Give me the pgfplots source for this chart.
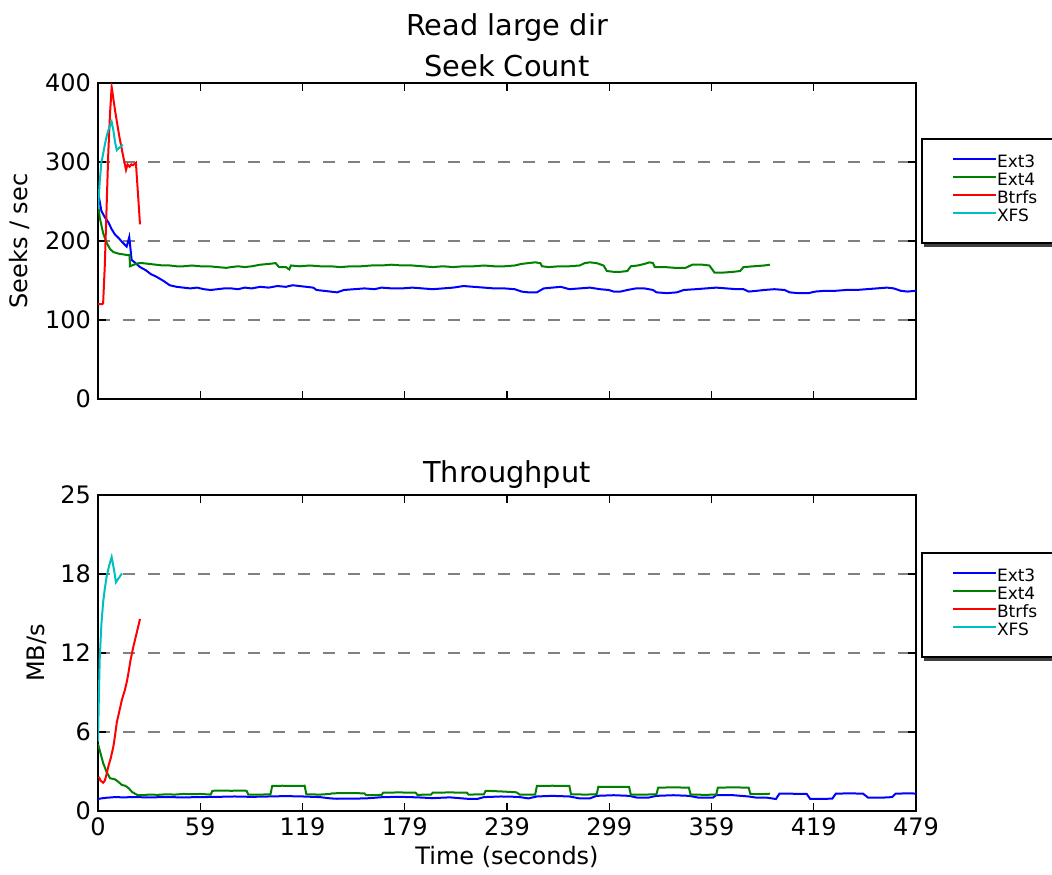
\documentclass[border=0pt]{standalone}
\usepackage{fontspec}
\setmainfont{DejaVu Sans}
\usepackage{pgfplots}
\pgfplotsset{compat=1.18}

\definecolor{mplblue}{rgb}{0,0,1}
\definecolor{mplgreen}{rgb}{0,0.5,0}
\definecolor{mplred}{rgb}{1,0,0}
\definecolor{mplcyan}{rgb}{0,0.75,0.75}

\pgfplotsset{
  fsaxis/.style={
    scale only axis, width=409pt, height=158pt,
    xmin=0, xmax=479,
    xtick={0,59.875,119.75,179.625,239.5,299.375,359.25,419.125,479},
    tick align=inside, xtick pos=both, ytick pos=both,
    major tick length=4pt,
    axis line style={line width=1.2pt},
    tick style={black, line width=0.6pt},
    ymajorgrids,
    major grid style={gray, line width=0.8pt, dash pattern=on 6pt off 6.5pt},
    tick label style={font=\fontsize{12}{14}\selectfont},
    /pgf/number format/assume math mode=true,
    label style={font=\fontsize{12}{14}\selectfont},
    every axis y label/.style={rotate=90, anchor=center, font=\fontsize{12}{14}\selectfont},
    title style={font=\fontsize{14.4}{20.5}\selectfont, align=center,
      at={(0.5,1)}, anchor=south, inner sep=0pt, yshift=-3pt},
    legend style={at={(1,1)}, anchor=north west, xshift=2.5pt,
      draw=black, line width=1pt, fill=white,
      inner xsep=15pt, inner ysep=8pt,
      font=\fontsize{8.5}{9}\selectfont, row sep=0pt,
      cells={anchor=west},
      nodes={inner sep=0pt, text height=6.3pt, text depth=2.7pt}},
    legend image code/.code={\path (0pt,0pt); \draw[#1] (0pt,2.5pt) -- (21.5pt,2.5pt);},
  }
}

\begin{document}
\begin{tikzpicture}
\useasboundingbox (-49pt,-31.5pt) rectangle (477pt,405.5pt);
\clip (-49pt,-31.5pt) rectangle (477pt,405.5pt);

% ---- Seek Count ----
\begin{axis}[fsaxis, at={(0,206pt)},
  ymin=0, ymax=400, ytick={0,100,200,300,400},
  xticklabels={,,,,,,,,},
  ylabel={Seeks / sec},
  ylabel style={at={(axis description cs:-0.0954,0.5)}},
  title={Read large dir\\Seek Count},
  legend style={yshift=-27.5pt, name=legA},
]
\addplot[mplblue, line width=1pt] coordinates {
(0,262)(1,250)(2,238)(4,230)(6,224)(8,215)(10,208)(12,204)(14,199)(16.8,193)(18.3,205)(19.7,176)
(22,172)(24.6,167)(28,163)(31,158)(34,155)(38,150)(42,144)(46,142)(50,141)(54,140)(58,141)(62,139)
(66,138)(70,139)(74,140)(78,140)(82,139)(86,141)(90,140)(95,142)(100,141)(105,143)(110,142)(114,144)
(118,143)(122,142)(126,141)(128,138)(132,137)(136,136)(140,135)(144,138)(150,139)(156,140)(162,139)
(166,141)(172,140)(178,140)(184,141)(190,140)(196,139)(202,140)(208,141)(214,143)(220,142)(226,141)
(232,140)(238,140)(244,139)(248,136)(252,135)(257,135)(261,140)(266,141)(271,142)(276,139)(282,140)
(288,141)(294,139)(299,138)(302,136)(306,136)(310,138)(315,140)(320,140)(325,138)(327,135)(333,134)
(339,135)(343,138)(350,139)(356,140)(362,141)(368,140)(374,139)(378,139)(381,136)(386,137)(390,138)
(396,139)(402,138)(405,135)(410,134)(416,134)(420,136)(426,137)(432,137)(438,138)(444,138)(450,139)
(456,140)(462,141)(466,140)(470,137)(474,136)(479,137)};
\addplot[mplgreen, line width=1pt] coordinates {
(0,248)(1,230)(3,210)(5,198)(7,190)(9,186)(12,184)(15,183)(17.6,182)(18.5,182)(18.7,168)(21,170)
(24,172)(26,172)(30,171)(34,170)(38,169)(42,169)(46,168)(50,168)(55,169)(60,168)(65,168)(70,167)
(75,166)(78,167)(82,168)(86,167)(90,168)(95,170)(100,171)(104,172)(106,167)(110,167)(112,164)(113,169)
(118,168)(124,169)(130,168)(136,168)(142,167)(148,168)(154,168)(160,169)(166,169)(172,170)(178,169)
(184,169)(190,168)(196,167)(202,168)(208,167)(214,168)(220,168)(226,169)(232,168)(238,168)(244,169)
(248,171)(252,172)(256,173)(259,172)(260,168)(264,167)(270,168)(276,168)(282,169)(285,172)(288,173)
(292,172)(296,169)(298,162)(302,161)(306,161)(310,162)(312,168)(316,169)(320,171)(323,173)(325,172)
(326,167)(332,167)(338,166)(344,166)(348,170)(354,170)(358,169)(361,160)(366,160)(372,161)(376,162)
(378,167)(384,168)(390,169)(393.5,170)};
\addplot[mplred, line width=1pt] coordinates {
(0,120)(2.5,120)(3,121)(4,170)(5,240)(6,310)(7,360)(8,395)(10,365)(12.5,332)(14.5,310)(16.4,290)
(17.3,297)(18.5,294)(19.5,297)(20.5,296)(22.2,299)(24.6,221)};
\addplot[mplcyan, line width=1pt] coordinates {
(0,240)(1,275)(2,300)(3,310)(4,322)(5,332)(6,340)(8,351)(9,340)(10,325)(11,315)(12.5,318)(14.5,322)};
\legend{Ext3,Ext4,Btrfs\hspace*{12pt},XFS}
\end{axis}
\draw[black!75, line width=1.5pt] ([xshift=1.5pt,yshift=-0.5pt]legA.south west) -- ([xshift=30pt,yshift=-0.5pt]legA.south east);

% ---- Throughput ----
\begin{axis}[fsaxis, at={(0,0)},
  ymin=0, ymax=25, ytick={0,6.25,12.5,18.75,25},
  yticklabels={0,6,12,18,25},
  xticklabels={0,59,119,179,239,299,359,419,479},
  xlabel={Time (seconds)},
  xlabel style={at={(axis description cs:0.5,-0.1456)}, anchor=center},
  ylabel={MB/s},
  ylabel style={at={(axis description cs:-0.0746,0.5)}},
  title={Throughput},
  legend style={yshift=-28.5pt, name=legB},
]
\addplot[mplblue, line width=1pt] coordinates {
(0,0.95)(2,1.0)(5,1.05)(10,1.1)(15,1.08)(20,1.1)(30,1.08)(40,1.1)(50,1.08)(60,1.1)(70,1.12)(80,1.15)
(90,1.12)(100,1.15)(110,1.18)(120,1.15)(130,1.1)(136,1.0)(140,0.97)(150,0.98)(157,1.0)(167,1.1)
(177,1.12)(187,1.08)(196,1.02)(206,1.08)(216,0.97)(222,0.95)(226,1.1)(236,1.15)(246,1.12)(252,1.0)
(257,1.15)(266,1.2)(276,1.15)(282,1.0)(288,1.0)(292,1.2)(302,1.25)(311,1.2)(316,1.05)(322,1.05)
(327,1.2)(337,1.25)(346,1.2)(352,1.05)(360,1.05)(362,1.25)(372,1.25)(381,1.15)(386,1.05)(392,1.05)
(397,0.95)(399,1.37)(405,1.37)(415,1.35)(417,0.96)(425,0.96)(430,0.98)(432,1.37)(440,1.4)(448,1.37)
(451,1.05)(458,1.05)(465,1.1)(467,1.37)(474,1.4)(479,1.38)};
\addplot[mplgreen, line width=1pt] coordinates {
(0,5.3)(1,4.8)(3,3.8)(5,3.1)(7,2.6)(10,2.5)(12,2.3)(14,2.06)(16,2.0)(18,1.8)(20,1.5)(23,1.27)
(26,1.25)(30,1.3)(35,1.28)(40,1.32)(45,1.3)(50,1.35)(55,1.33)(60,1.35)(66,1.3)(67,1.6)(72,1.62)
(78,1.6)(84,1.62)(87,1.6)(88,1.3)(95,1.3)(101,1.32)(102,1.98)(108,2.0)(115,1.98)(121,2.0)(122,1.32)
(130,1.3)(136,1.35)(137,1.4)(146,1.42)(156,1.4)(157,1.25)(166,1.27)(167,1.45)(176,1.47)(186,1.45)
(187,1.28)(195,1.3)(196,1.45)(206,1.47)(216,1.45)(217,1.3)(226,1.32)(227,1.6)(236,1.55)(245,1.48)
(247,1.3)(256,1.3)(257,1.98)(266,2.0)(276,1.98)(277,1.32)(286,1.3)(292,1.33)(293,1.92)(302,1.9)
(311,1.9)(312,1.3)(320,1.3)(327,1.32)(328,1.85)(337,1.87)(346,1.85)(347,1.3)(356,1.28)(362,1.3)
(363,1.85)(372,1.87)(381,1.85)(382,1.35)(388,1.33)(393.5,1.37)};
\addplot[mplred, line width=1pt] coordinates {
(0.5,2.7)(1.5,2.4)(3,2.24)(4,2.4)(5,2.9)(6,3.5)(7.5,4.2)(9,5.1)(10,6.0)(11,7.0)(12.5,7.9)(14,8.8)
(15.8,9.6)(17,10.3)(17.8,10.9)(19,11.9)(20.7,13.0)(22.5,14.0)(24.6,15.2)};
\addplot[mplcyan, line width=1pt] coordinates {
(0,5.5)(0.5,9)(1,12)(2,14.8)(3,16.5)(4,17.6)(5,18.5)(6.5,19.4)(8,20.1)(9.5,19)(10.5,18.1)(12,18.4)(14,18.8)};
\legend{Ext3,Ext4,Btrfs\hspace*{12pt},XFS}
\end{axis}
\draw[black!75, line width=1.5pt] ([xshift=1.5pt,yshift=-0.5pt]legB.south west) -- ([xshift=30pt,yshift=-0.5pt]legB.south east);
\end{tikzpicture}
\end{document}
